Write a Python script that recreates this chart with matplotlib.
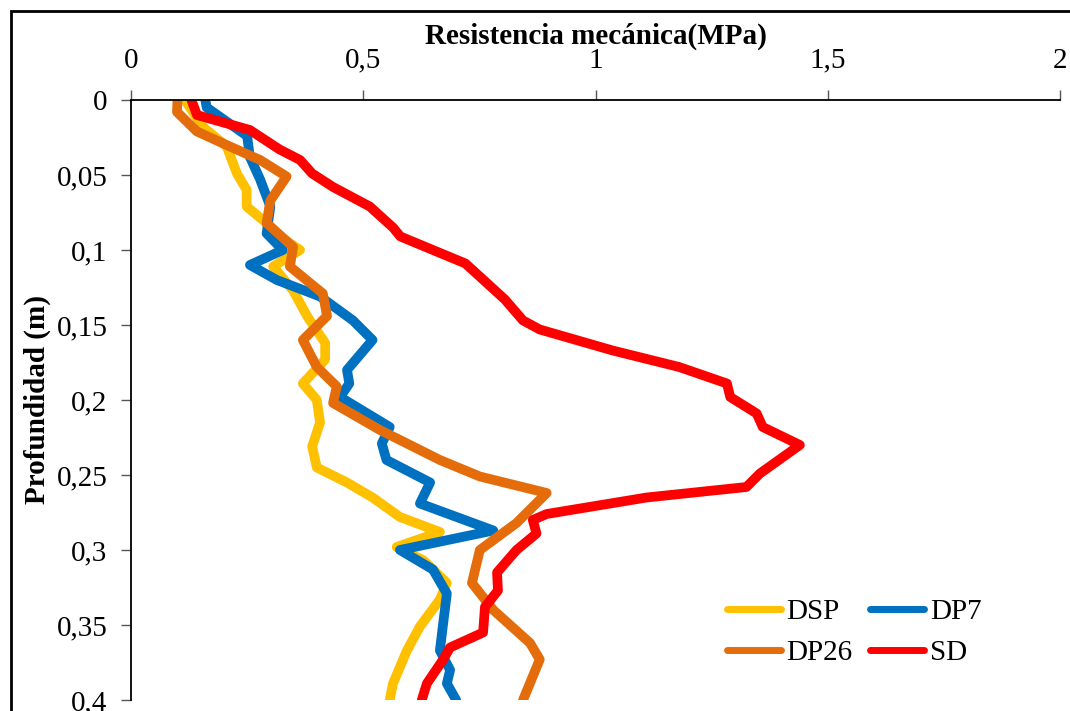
import matplotlib.pyplot as plt
from matplotlib.patches import Rectangle
from matplotlib.ticker import FuncFormatter

plt.rcParams["font.family"] = ["Liberation Serif", "DejaVu Serif"]

# colours as in the original (Excel palette)
cDSP = "#ffc000"
cDP7 = "#0070c0"
cDP26 = "#e46c0a"
cSD = "#ff0000"

# depth (m) / resistance (MPa)
dsp_depth = [0, 0.018, 0.031, 0.049, 0.06, 0.071, 0.08, 0.091, 0.1, 0.111, 0.127,
             0.144, 0.162, 0.173, 0.189, 0.2, 0.215, 0.231, 0.245, 0.255, 0.265,
             0.278, 0.288, 0.298, 0.307, 0.322, 0.333, 0.351, 0.367, 0.389, 0.4]
dsp_res = [0.116, 0.155, 0.206, 0.228, 0.249, 0.249, 0.284, 0.32, 0.364, 0.306, 0.349,
           0.379, 0.418, 0.418, 0.37, 0.4, 0.407, 0.39, 0.4, 0.465, 0.52,
           0.579, 0.665, 0.572, 0.63, 0.68, 0.665, 0.622, 0.594, 0.564, 0.557]

dp7_depth = [0, 0.005, 0.024, 0.038, 0.053, 0.071, 0.089, 0.1, 0.11, 0.12, 0.131,
             0.147, 0.16, 0.18, 0.189, 0.198, 0.218, 0.229, 0.24, 0.255, 0.269,
             0.287, 0.3, 0.313, 0.329, 0.349, 0.367, 0.38, 0.389, 0.4]
dp7_res = [0.16, 0.163, 0.25, 0.256, 0.278, 0.3, 0.292, 0.327, 0.256, 0.314, 0.407,
           0.478, 0.52, 0.465, 0.47, 0.45, 0.557, 0.54, 0.55, 0.644, 0.622,
           0.78, 0.579, 0.65, 0.68, 0.672, 0.665, 0.687, 0.68, 0.7]

dp26_depth = [0, 0.008, 0.021, 0.031, 0.04, 0.051, 0.067, 0.082, 0.098, 0.111, 0.129,
              0.144, 0.16, 0.178, 0.191, 0.202, 0.22, 0.24, 0.251, 0.262, 0.282,
              0.3, 0.322, 0.34, 0.362, 0.373, 0.4]
dp26_res = [0.10, 0.099, 0.142, 0.213, 0.278, 0.335, 0.3, 0.292, 0.349, 0.342, 0.413,
            0.422, 0.37, 0.4, 0.443, 0.435, 0.536, 0.665, 0.751, 0.895, 0.83,
            0.751, 0.734, 0.78, 0.859, 0.88, 0.844]

sd_depth = [0, 0.01, 0.02, 0.033, 0.04, 0.049, 0.058, 0.071, 0.085, 0.091, 0.109,
            0.133, 0.147, 0.153, 0.167, 0.178, 0.189, 0.198, 0.209, 0.218, 0.23,
            0.249, 0.258, 0.265, 0.276, 0.28, 0.289, 0.3, 0.315, 0.327, 0.338,
            0.355, 0.365, 0.373, 0.389, 0.4]
sd_res = [0.13, 0.142, 0.256, 0.32, 0.364, 0.39, 0.435, 0.514, 0.564, 0.58, 0.72,
          0.805, 0.844, 0.88, 1.037, 1.18, 1.283, 1.29, 1.347, 1.36, 1.44,
          1.354, 1.325, 1.11, 0.895, 0.865, 0.873, 0.83, 0.788, 0.79, 0.762,
          0.758, 0.687, 0.672, 0.637, 0.626]

fig = plt.figure(figsize=(10.7, 7.11), dpi=100)
ax = fig.add_axes([131 / 1070, 11 / 711, 929 / 1070, 600 / 711])

style = dict(lw=7, solid_capstyle="round", solid_joinstyle="round")
l_dsp, = ax.plot(dsp_res, dsp_depth, color=cDSP, label="DSP", **style)
l_dp7, = ax.plot(dp7_res, dp7_depth, color=cDP7, label="DP7", **style)
l_dp26, = ax.plot(dp26_res, dp26_depth, color=cDP26, label="DP26", **style)
l_sd, = ax.plot(sd_res, sd_depth, color=cSD, label="SD", **style)

ax.set_xlim(0, 2)
ax.set_ylim(0.4, 0)
ax.set_xticks([0, 0.5, 1, 1.5, 2])
ax.set_yticks([0, 0.05, 0.1, 0.15, 0.2, 0.25, 0.3, 0.35, 0.4])
comma = FuncFormatter(lambda v, p: ("%g" % v).replace(".", ","))
ax.xaxis.set_major_formatter(comma)
ax.yaxis.set_major_formatter(comma)
ax.xaxis.tick_top()
ax.xaxis.set_label_position("top")
ax.tick_params(axis="both", labelsize=21, length=7, width=1, color="#555555", direction="out")
ax.tick_params(axis="x", pad=12)
ax.tick_params(axis="y", pad=10)

for s in ["right", "bottom"]:
    ax.spines[s].set_visible(False)
for s in ["left", "top"]:
    ax.spines[s].set_linewidth(1.3)

ax.set_xlabel("Resistencia mecánica(MPa)", fontsize=21, fontweight="bold", labelpad=3)
ax.set_ylabel("Profundidad (m)", fontsize=21, fontweight="bold", labelpad=4)

# legend in rows: DSP DP7 / DP26 SD (matplotlib fills by column)
leg = ax.legend([l_dsp, l_dp26, l_dp7, l_sd], ["DSP", "DP26", "DP7", "SD"],
                ncol=2, loc="upper left", bbox_to_anchor=(0.613, 0.212), frameon=False,
                fontsize=21, handlelength=1.85, handletextpad=0.2, columnspacing=0.6,
                labelspacing=0.5)
for h in leg.get_lines():
    h.set_linewidth(5)

# outer chart border as in the Excel export
fig.patches.append(Rectangle((11 / 1070, -0.1), 1.2, 1.1 - 11 / 711,
                             transform=fig.transFigure, fill=False,
                             edgecolor="black", linewidth=2))

fig.savefig("out.png", dpi=100)
